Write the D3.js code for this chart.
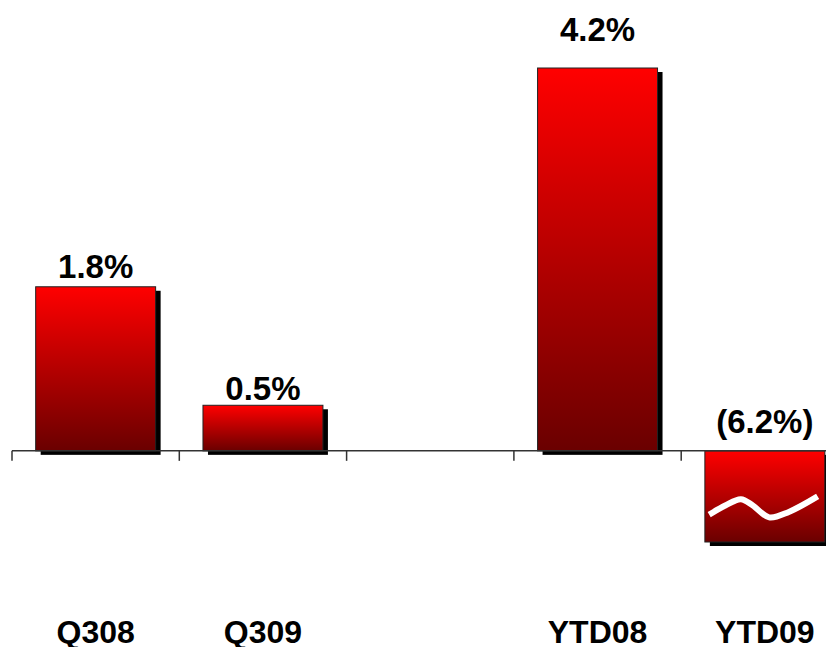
<!DOCTYPE html>
<html>
<head>
<meta charset="utf-8">
<script src="https://cdn.jsdelivr.net/npm/d3@7"></script>
<style>
  html, body { margin: 0; padding: 0; background: #fff; }
  svg { display: block; }
</style>
</head>
<body>
<div id="chart"></div>
<script>
// data
const categories = ["Q308", "Q309", "", "YTD08", "YTD09"];
const values = [1.8, 0.5, null, 4.2, -6.2];
const labels = ["1.8%", "0.5%", "", "4.2%", "(6.2%)"];

// layout only: gap between bar end and its value label
const labelGap = [9, 5, 0, 27, 18];

const W = 826, H = 647;
const axisFloor = -1; // axis is broken below this value

const svg = d3.select("#chart").append("svg")
  .attr("width", W).attr("height", H);

const defs = svg.append("defs");
const grad = defs.append("linearGradient")
  .attr("id", "barGrad")
  .attr("x1", 0).attr("y1", 0).attr("x2", 0).attr("y2", 1);
grad.append("stop").attr("offset", "0%").attr("stop-color", "#ff0000");
grad.append("stop").attr("offset", "100%").attr("stop-color", "#6a0000");

const x = d3.scaleBand()
  .domain(d3.range(categories.length))
  .range([12, 848.5])
  .paddingInner(0.283)
  .paddingOuter(0.1415);

const xTicks = d3.scaleBand()
  .domain(d3.range(categories.length))
  .range([12, 848.5]);

const y = d3.scaleLinear()
  .domain([axisFloor, 4.2])
  .range([542, 68]);

const rows = values.map((v, i) => ({ i, v, label: labels[i], cat: categories[i] }))
  .filter(d => d.v !== null);

const barTop = d => y(Math.max(d.v, 0));
const barH = d => Math.abs(y(Math.max(d.v, axisFloor)) - y(0));

// shadows
svg.selectAll("rect.shadow")
  .data(rows)
  .join("rect")
  .attr("class", "shadow")
  .attr("x", d => x(d.i) + 5)
  .attr("y", d => barTop(d) + 4)
  .attr("width", x.bandwidth())
  .attr("height", d => barH(d))
  .attr("fill", "#000");

// bars
svg.selectAll("rect.bar")
  .data(rows)
  .join("rect")
  .attr("class", "bar")
  .attr("x", d => x(d.i))
  .attr("y", d => barTop(d))
  .attr("width", x.bandwidth())
  .attr("height", d => barH(d))
  .attr("fill", "url(#barGrad)")
  .attr("stroke", "#222")
  .attr("stroke-width", 1);

// break symbol on bars cut by the axis floor
const wave = [[0.036, 0.70], [0.17, 0.60], [0.30, 0.53], [0.40, 0.60], [0.536, 0.73], [0.70, 0.67], [0.94, 0.50]];
const line = d3.line().curve(d3.curveCatmullRom);
rows.filter(d => d.v < axisFloor).forEach(d => {
  const bx = x(d.i), by = barTop(d), bw = x.bandwidth(), bh = barH(d);
  svg.append("path")
    .attr("d", line(wave.map(p => [bx + p[0] * bw, by + p[1] * bh])))
    .attr("fill", "none")
    .attr("stroke", "#fff")
    .attr("stroke-width", 6);
});

// axis
const axis = svg.append("g")
  .attr("transform", `translate(0, ${y(0)})`);
axis.append("line")
  .attr("x1", 12).attr("x2", 848.5)
  .attr("y1", 0).attr("y2", 0)
  .attr("stroke", "#333").attr("stroke-width", 1.5);
axis.selectAll("line.tick")
  .data(d3.range(categories.length + 1))
  .join("line")
  .attr("class", "tick")
  .attr("x1", i => i < categories.length ? xTicks(i) : 848.5)
  .attr("x2", i => i < categories.length ? xTicks(i) : 848.5)
  .attr("y1", 0).attr("y2", 10)
  .attr("stroke", "#333").attr("stroke-width", 1.5);

// value labels
svg.selectAll("text.val")
  .data(rows)
  .join("text")
  .attr("class", "val")
  .attr("x", d => x(d.i) + x.bandwidth() / 2)
  .attr("y", d => y(Math.max(d.v, 0)) - labelGap[d.i])
  .attr("text-anchor", "middle")
  .attr("font-family", "'Liberation Sans', Arial, sans-serif")
  .attr("font-weight", "bold")
  .attr("font-size", 33)
  .attr("fill", "#000")
  .text(d => d.label);

// category labels
svg.selectAll("text.cat")
  .data(categories.map((c, i) => ({ c, i })).filter(d => d.c))
  .join("text")
  .attr("class", "cat")
  .attr("x", d => x(d.i) + x.bandwidth() / 2)
  .attr("y", 643)
  .attr("text-anchor", "middle")
  .attr("font-family", "'Liberation Sans', Arial, sans-serif")
  .attr("font-weight", "bold")
  .attr("font-size", 32)
  .attr("fill", "#000")
  .text(d => d.c);
</script>
</body>
</html>
